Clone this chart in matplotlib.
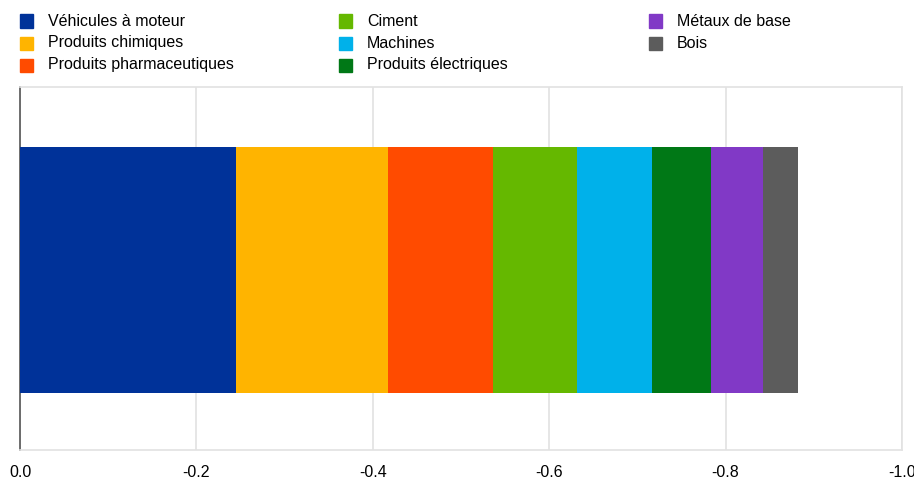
import matplotlib
matplotlib.use("Agg")
import matplotlib.pyplot as plt
from matplotlib.patches import Rectangle

plt.rcParams["font.family"] = ["Liberation Sans", "DejaVu Sans"]

# data
categories = [
    "Véhicules à moteur", "Produits chimiques", "Produits pharmaceutiques",
    "Ciment", "Machines", "Produits électriques",
    "Métaux de base", "Bois",
]
values = [-0.245, -0.172, -0.119, -0.096, -0.084, -0.068, -0.058, -0.040]
colors = ["#003299", "#FFB400", "#FF4B00", "#65B800",
          "#00B1EA", "#007816", "#8139C6", "#5C5C5C"]
xticks = [0.0, -0.2, -0.4, -0.6, -0.8, -1.0]
xtick_labels = ["0.0", "-0.2", "-0.4", "-0.6", "-0.8", "-1.0"]

W, H = 914, 479
fig = plt.figure(figsize=(W / 100, H / 100), dpi=100)
ax = fig.add_axes([20 / W, 1 - 450 / H, (902 - 20) / W, (450 - 87) / H])

left = 0.0
for v, c in zip(values, colors):
    ax.barh(0, v, left=left, height=0.678, color=c, edgecolor="none", zorder=3)
    left += v

ax.set_xlim(0, -1.0)
ax.set_ylim(-0.496, 0.504)
ax.set_yticks([])
ax.set_xticks(xticks)
ax.set_xticklabels(xtick_labels, fontsize=11.5, color="#000000")
ax.tick_params(axis="x", length=0, pad=11)
ax.grid(axis="x", color="#e2e2e2", linewidth=1.2, zorder=0)

for side in ["top", "right", "bottom"]:
    ax.spines[side].set_color("#e2e2e2")
    ax.spines[side].set_linewidth(1.2)
ax.spines["left"].set_color("#555555")
ax.spines["left"].set_linewidth(1.2)

# legend drawn manually (3 columns, filled column-wise)
col_x = [20, 339, 649]
row_y = [21, 43, 65]
rows_per_col = [3, 3, 2]
i = 0
for ci, n in enumerate(rows_per_col):
    for ri in range(n):
        x0, y0 = col_x[ci], row_y[ri]
        fig.add_artist(Rectangle((x0 / W, 1 - (y0 + 6.5) / H), 13 / W, 13 / H,
                                 transform=fig.transFigure, color=colors[i]))
        fig.text((x0 + 28) / W, 1 - y0 / H, categories[i], fontsize=11.5,
                 va="center", ha="left", color="#000000")
        i += 1

fig.savefig("out.png", dpi=100)
